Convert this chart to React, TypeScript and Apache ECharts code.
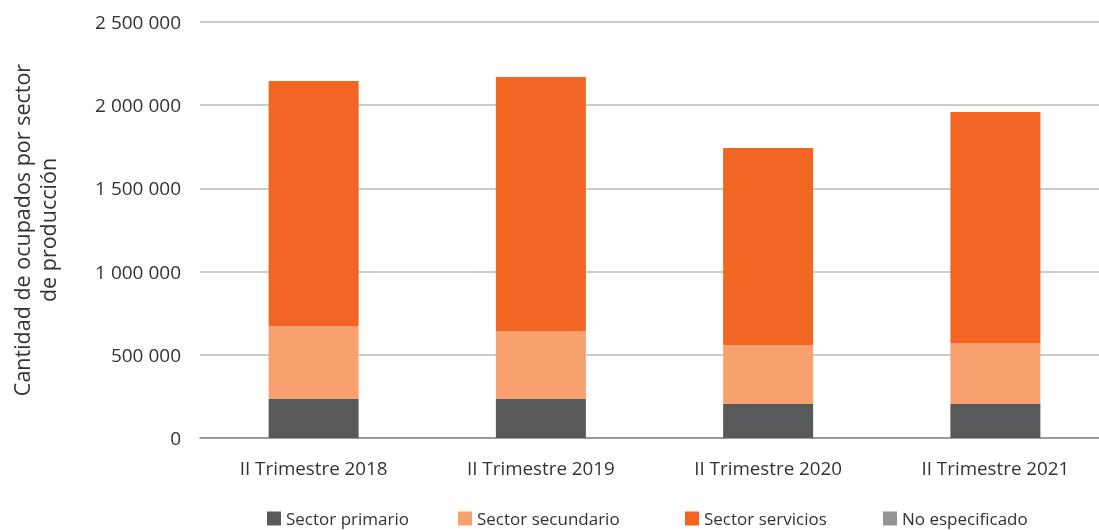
import React, { useEffect, useRef } from "react";
import * as echarts from "echarts";

const categories = ["II Trimestre 2018", "II Trimestre 2019", "II Trimestre 2020", "II Trimestre 2021"];
const primario = [234000, 234000, 204000, 204000];
const secundario = [439000, 409000, 355000, 367000];
const servicios = [1472000, 1526000, 1184000, 1388000];
const noEspecificado = [0, 0, 0, 0];
const seriesNames = ["Sector primario", "Sector secundario", "Sector servicios", "No especificado"];
const colors = ["#58595b", "#f9a06f", "#f26522", "#939598"];
const legendLeft = [262, 453, 680, 878];

const FONT = "Open Sans";

export default function App() {
  const ref = useRef<HTMLDivElement>(null);
  useEffect(() => {
    if (!ref.current) return;
    const chart = echarts.init(ref.current, undefined, { renderer: "svg" });
    const data = [primario, secundario, servicios, noEspecificado];
    chart.setOption({
      animation: false,
      color: colors,
      textStyle: { fontFamily: FONT },
      grid: { left: 200, width: 909, top: 22, bottom: 92, outerBoundsMode: "none", containLabel: false },
      legend: seriesNames.map((n, i) => ({
        bottom: -2,
        left: legendLeft[i],
        itemWidth: 14,
        itemHeight: 14,
        icon: "rect",
        textStyle: { fontSize: 17, color: "#333", fontFamily: FONT },
        data: [n],
      })),
      xAxis: {
        type: "category",
        data: categories,
        axisTick: { show: false },
        axisLine: { lineStyle: { color: "#888", width: 1.5 } },
        axisLabel: { fontSize: 18.8, color: "#333", margin: 20, fontFamily: FONT },
      },
      yAxis: {
        type: "value",
        min: 0,
        max: 2500000,
        interval: 500000,
        name: "Cantidad de ocupados por sector\nde producción",
        nameLocation: "middle",
        nameGap: 140,
        nameRotate: 90,
        nameTextStyle: { fontSize: 21.5, color: "#333", fontFamily: FONT, lineHeight: 26 },
        axisLabel: {
          fontSize: 19,
          color: "#333",
          margin: 19,
          fontFamily: FONT,
          formatter: (v: number) => String(v).replace(/\B(?=(\d{3})+(?!\d))/g, " "),
        },
        splitLine: { lineStyle: { color: "#bbb", width: 1.5 } },
      },
      series: seriesNames.map((name, i) => ({
        name,
        type: "bar",
        stack: "total",
        barWidth: 90,
        data: data[i],
        itemStyle: { color: colors[i] },
      })),
    });
    return () => chart.dispose();
  }, []);
  return <div ref={ref} style={{ position: "fixed", left: 0, top: 0, width: 1099, height: 530 }} />;
}
